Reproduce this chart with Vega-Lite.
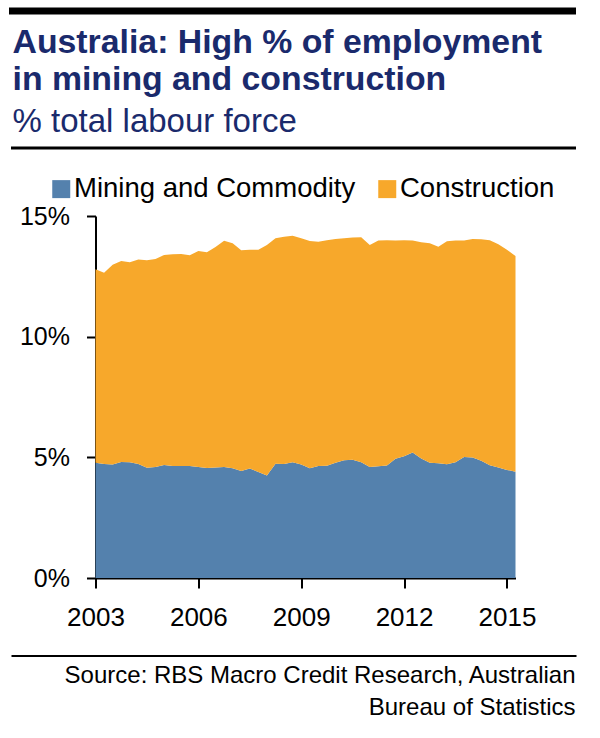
{
  "$schema": "https://vega.github.io/schema/vega-lite/v6.json",
  "background": "white",
  "padding": {"left": 8.5, "top": 7, "right": 0, "bottom": 0},
  "spacing": 25,
  "config": {"font": "Liberation Sans", "view": {"stroke": null}},
  "resolve": {"scale": {"color": "independent"}, "legend": {"color": "independent"}},
  "datasets": {
    "employment": [
      {"year": 2003.00, "series": "Mining and Commodity", "share": 4.78}, {"year": 2003.00, "series": "Construction", "share": 8.01},
      {"year": 2003.25, "series": "Mining and Commodity", "share": 4.72}, {"year": 2003.25, "series": "Construction", "share": 7.93},
      {"year": 2003.50, "series": "Mining and Commodity", "share": 4.70}, {"year": 2003.50, "series": "Construction", "share": 8.28},
      {"year": 2003.75, "series": "Mining and Commodity", "share": 4.81}, {"year": 2003.75, "series": "Construction", "share": 8.33},
      {"year": 2004.00, "series": "Mining and Commodity", "share": 4.80}, {"year": 2004.00, "series": "Construction", "share": 8.28},
      {"year": 2004.25, "series": "Mining and Commodity", "share": 4.72}, {"year": 2004.25, "series": "Construction", "share": 8.48},
      {"year": 2004.50, "series": "Mining and Commodity", "share": 4.57}, {"year": 2004.50, "series": "Construction", "share": 8.60},
      {"year": 2004.75, "series": "Mining and Commodity", "share": 4.60}, {"year": 2004.75, "series": "Construction", "share": 8.62},
      {"year": 2005.00, "series": "Mining and Commodity", "share": 4.68}, {"year": 2005.00, "series": "Construction", "share": 8.70},
      {"year": 2005.25, "series": "Mining and Commodity", "share": 4.64}, {"year": 2005.25, "series": "Construction", "share": 8.77},
      {"year": 2005.50, "series": "Mining and Commodity", "share": 4.64}, {"year": 2005.50, "series": "Construction", "share": 8.79},
      {"year": 2005.75, "series": "Mining and Commodity", "share": 4.64}, {"year": 2005.75, "series": "Construction", "share": 8.73},
      {"year": 2006.00, "series": "Mining and Commodity", "share": 4.60}, {"year": 2006.00, "series": "Construction", "share": 8.95},
      {"year": 2006.25, "series": "Mining and Commodity", "share": 4.56}, {"year": 2006.25, "series": "Construction", "share": 8.94},
      {"year": 2006.50, "series": "Mining and Commodity", "share": 4.58}, {"year": 2006.50, "series": "Construction", "share": 9.14},
      {"year": 2006.75, "series": "Mining and Commodity", "share": 4.60}, {"year": 2006.75, "series": "Construction", "share": 9.37},
      {"year": 2007.00, "series": "Mining and Commodity", "share": 4.55}, {"year": 2007.00, "series": "Construction", "share": 9.32},
      {"year": 2007.25, "series": "Mining and Commodity", "share": 4.43}, {"year": 2007.25, "series": "Construction", "share": 9.15},
      {"year": 2007.50, "series": "Mining and Commodity", "share": 4.54}, {"year": 2007.50, "series": "Construction", "share": 9.06},
      {"year": 2007.75, "series": "Mining and Commodity", "share": 4.39}, {"year": 2007.75, "series": "Construction", "share": 9.21},
      {"year": 2008.00, "series": "Mining and Commodity", "share": 4.25}, {"year": 2008.00, "series": "Construction", "share": 9.55},
      {"year": 2008.25, "series": "Mining and Commodity", "share": 4.73}, {"year": 2008.25, "series": "Construction", "share": 9.35},
      {"year": 2008.50, "series": "Mining and Commodity", "share": 4.72}, {"year": 2008.50, "series": "Construction", "share": 9.42},
      {"year": 2008.75, "series": "Mining and Commodity", "share": 4.80}, {"year": 2008.75, "series": "Construction", "share": 9.38},
      {"year": 2009.00, "series": "Mining and Commodity", "share": 4.70}, {"year": 2009.00, "series": "Construction", "share": 9.38},
      {"year": 2009.25, "series": "Mining and Commodity", "share": 4.55}, {"year": 2009.25, "series": "Construction", "share": 9.41},
      {"year": 2009.50, "series": "Mining and Commodity", "share": 4.64}, {"year": 2009.50, "series": "Construction", "share": 9.29},
      {"year": 2009.75, "series": "Mining and Commodity", "share": 4.65}, {"year": 2009.75, "series": "Construction", "share": 9.35},
      {"year": 2010.00, "series": "Mining and Commodity", "share": 4.78}, {"year": 2010.00, "series": "Construction", "share": 9.27},
      {"year": 2010.25, "series": "Mining and Commodity", "share": 4.88}, {"year": 2010.25, "series": "Construction", "share": 9.20},
      {"year": 2010.50, "series": "Mining and Commodity", "share": 4.90}, {"year": 2010.50, "series": "Construction", "share": 9.21},
      {"year": 2010.75, "series": "Mining and Commodity", "share": 4.80}, {"year": 2010.75, "series": "Construction", "share": 9.32},
      {"year": 2011.00, "series": "Mining and Commodity", "share": 4.60}, {"year": 2011.00, "series": "Construction", "share": 9.20},
      {"year": 2011.25, "series": "Mining and Commodity", "share": 4.63}, {"year": 2011.25, "series": "Construction", "share": 9.35},
      {"year": 2011.50, "series": "Mining and Commodity", "share": 4.66}, {"year": 2011.50, "series": "Construction", "share": 9.34},
      {"year": 2011.75, "series": "Mining and Commodity", "share": 4.94}, {"year": 2011.75, "series": "Construction", "share": 9.04},
      {"year": 2012.00, "series": "Mining and Commodity", "share": 5.05}, {"year": 2012.00, "series": "Construction", "share": 8.95},
      {"year": 2012.25, "series": "Mining and Commodity", "share": 5.20}, {"year": 2012.25, "series": "Construction", "share": 8.78},
      {"year": 2012.50, "series": "Mining and Commodity", "share": 4.95}, {"year": 2012.50, "series": "Construction", "share": 8.96},
      {"year": 2012.75, "series": "Mining and Commodity", "share": 4.78}, {"year": 2012.75, "series": "Construction", "share": 9.09},
      {"year": 2013.00, "series": "Mining and Commodity", "share": 4.76}, {"year": 2013.00, "series": "Construction", "share": 8.97},
      {"year": 2013.25, "series": "Mining and Commodity", "share": 4.71}, {"year": 2013.25, "series": "Construction", "share": 9.24},
      {"year": 2013.50, "series": "Mining and Commodity", "share": 4.80}, {"year": 2013.50, "series": "Construction", "share": 9.18},
      {"year": 2013.75, "series": "Mining and Commodity", "share": 5.01}, {"year": 2013.75, "series": "Construction", "share": 8.97},
      {"year": 2014.00, "series": "Mining and Commodity", "share": 4.99}, {"year": 2014.00, "series": "Construction", "share": 9.06},
      {"year": 2014.25, "series": "Mining and Commodity", "share": 4.86}, {"year": 2014.25, "series": "Construction", "share": 9.18},
      {"year": 2014.50, "series": "Mining and Commodity", "share": 4.67}, {"year": 2014.50, "series": "Construction", "share": 9.33},
      {"year": 2014.75, "series": "Mining and Commodity", "share": 4.58}, {"year": 2014.75, "series": "Construction", "share": 9.25},
      {"year": 2015.00, "series": "Mining and Commodity", "share": 4.48}, {"year": 2015.00, "series": "Construction", "share": 9.12},
      {"year": 2015.25, "series": "Mining and Commodity", "share": 4.40}, {"year": 2015.25, "series": "Construction", "share": 8.94}
    ]
  },
  "vconcat": [
    {
      "spacing": 3,
      "vconcat": [
        {
          "data": {"values": []},
          "mark": "point",
          "width": 560,
          "height": 0.01,
          "view": {"stroke": "black", "strokeWidth": 7},
          "title": {
            "text": ["Australia: High % of employment", "in mining and construction"],
            "subtitle": "% total labour force",
            "orient": "bottom",
            "anchor": "start",
            "frame": "group",
            "offset": 15,
            "font": "Liberation Sans",
            "fontSize": 33.8,
            "fontWeight": "bold",
            "color": "#1a2a6c",
            "lineHeight": 37,
            "subtitleFont": "Liberation Sans",
            "subtitleFontSize": 33,
            "subtitleFontWeight": "normal",
            "subtitleColor": "#1a2a6c",
            "subtitlePadding": 9
          }
        },
        {
          "data": {"values": []},
          "mark": "point",
          "width": 562,
          "height": 0.01,
          "view": {"stroke": "black", "strokeWidth": 3}
        }
      ]
    },
    {
      "resolve": {"scale": {"color": "independent"}, "legend": {"color": "independent"}},
      "spacing": 0,
      "hconcat": [
        {
          "data": {"values": []},
          "mark": "point",
          "width": 0.01,
          "height": 0.01
        },
        {
          "data": {"name": "employment"},
          "width": 420,
          "height": 362,
          "mark": {"type": "area", "opacity": 1, "interpolate": "linear"},
          "encoding": {
            "x": {
              "field": "year",
              "type": "quantitative",
              "scale": {"domain": [2003, 2015.25], "nice": false, "zero": false},
              "axis": {
                "values": [2003, 2006, 2009, 2012, 2015],
                "format": "d",
                "title": null,
                "grid": false,
                "domainColor": "black",
                "domainWidth": 2,
                "tickColor": "black",
                "tickWidth": 2,
                "tickSize": 10,
                "labelFont": "Liberation Sans",
                "labelFontSize": 26,
                "labelColor": "black",
                "labelPadding": 16,
                "labelFlush": false,
                "labelOverlap": false
              }
            },
            "y": {
              "field": "share",
              "type": "quantitative",
              "stack": "zero",
              "scale": {"domain": [0, 15], "nice": false},
              "axis": {
                "values": [0, 5, 10, 15],
                "labelExpr": "datum.value + '%'",
                "title": null,
                "grid": false,
                "domainColor": "black",
                "domainWidth": 2,
                "tickColor": "black",
                "tickWidth": 2,
                "tickSize": 9,
                "labelFont": "Liberation Sans",
                "labelFontSize": 25,
                "labelColor": "black",
                "labelPadding": 17,
                "minExtent": 82
              }
            },
            "color": {
              "field": "series",
              "type": "nominal",
              "scale": {"domain": ["Mining and Commodity", "Construction"], "range": ["#5481ad", "#f7a82b"]},
              "legend": {
                "title": null,
                "orient": "none",
                "legendX": -48,
                "legendY": -41,
                "direction": "horizontal",
                "symbolType": "square",
                "symbolSize": 324,
                "symbolStrokeWidth": 0,
                "symbolOpacity": 1,
                "labelFont": "Liberation Sans",
                "labelFontSize": 27.5,
                "labelColor": "black",
                "labelLimit": 0,
                "labelOffset": -1,
                "columnPadding": 18,
                "padding": 0
              }
            },
            "order": {"field": "series", "sort": "descending"}
          }
        }
      ]
    },
    {
      "data": {"values": []},
      "mark": "point",
      "width": 563,
      "height": 0.01,
      "view": {"stroke": "black", "strokeWidth": 2},
      "title": {
        "text": ["Source: RBS Macro Credit Research, Australian", "Bureau of Statistics"],
        "orient": "bottom",
        "anchor": "end",
        "frame": "group",
        "offset": 8,
        "font": "Liberation Sans",
        "fontSize": 24,
        "fontWeight": "normal",
        "color": "black",
        "lineHeight": 32
      }
    }
  ]
}
